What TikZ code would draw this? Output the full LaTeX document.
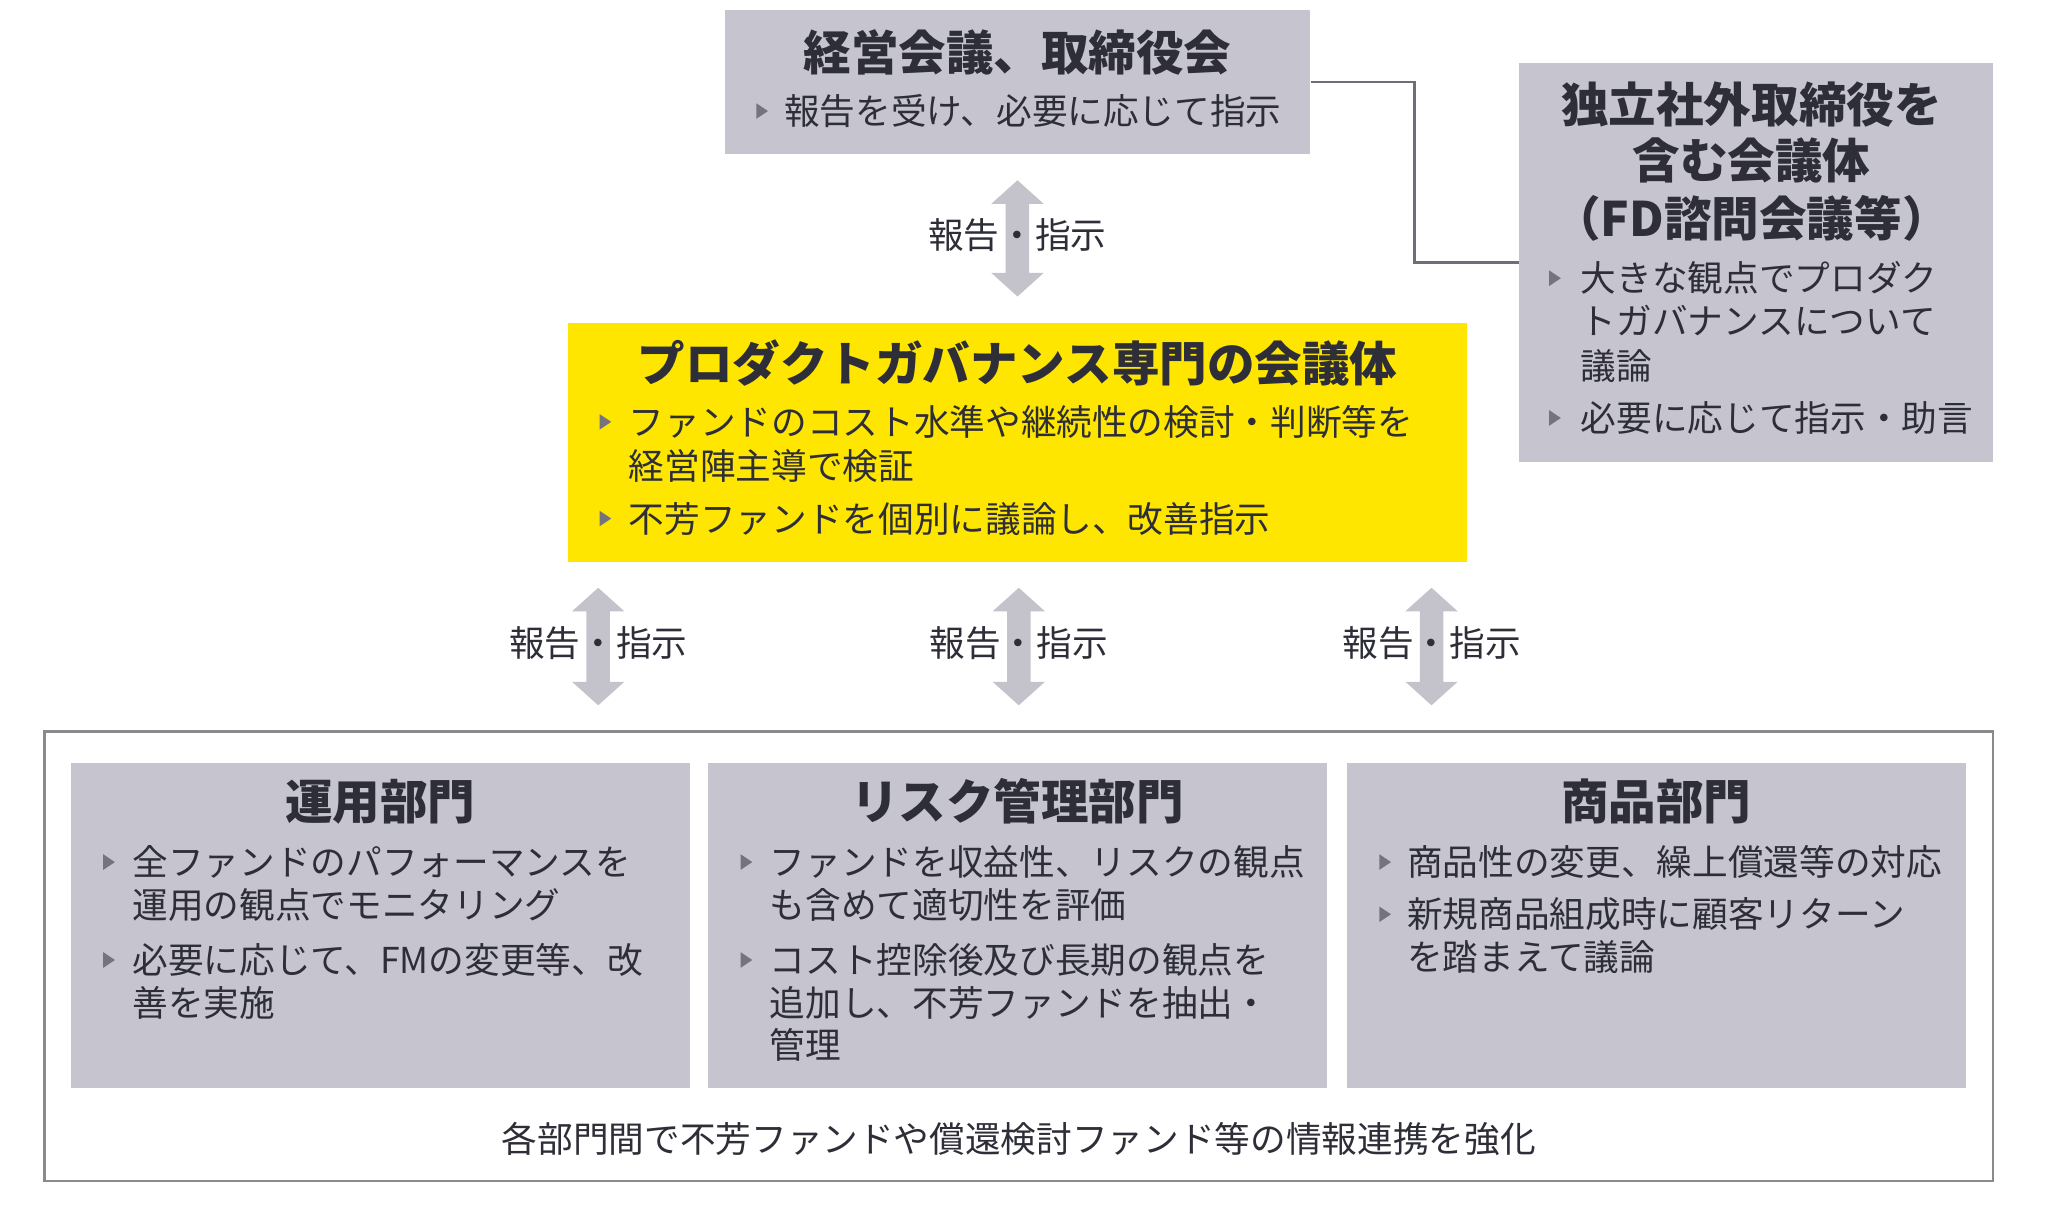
\documentclass[tikz,border=0pt]{standalone}
\usepackage{fontspec}
\setmainfont{Noto Sans CJK JP}
\usetikzlibrary{fit}
\definecolor{boxgray}{HTML}{C6C5CF}
\definecolor{eyyellow}{HTML}{FFE600}
\definecolor{txt}{HTML}{2E2E38}
\definecolor{bulc}{HTML}{74747E}
\definecolor{arrc}{HTML}{C4C3CC}
\definecolor{connc}{HTML}{6E6E78}
\definecolor{outerc}{HTML}{8A8A8E}
\tikzset{
  box/.style={fill=boxgray, draw=none, inner sep=0pt},
  ybox/.style={fill=eyyellow, draw=none, inner sep=0pt},
  body/.style={anchor=base west, inner sep=0pt, text=txt, font=\fontsize{13.65}{16}\selectfont},
  lbl/.style={anchor=base, inner sep=0pt, text=txt, font=\fontsize{13.65}{16}\selectfont},
  ttl/.style={anchor=base, inner sep=0pt, text=txt, font=\fontsize{18.2}{22}\selectfont\bfseries},
  conn/.style={draw=connc, line width=0.9pt},
}
% bullet triangle at (x, centre y)
\newcommand\bultri[2]{\fill[bulc] (#1-4,#2-6) -- (#1+5,#2) -- (#1-4,#2+6) -- cycle;}
% text line: name, x, centre y, text
\newcommand\tline[4]{\node[body] (#1) at (#2,#3+10.4) {#4};}
% title line: name, x, centre y, text
\newcommand\tttl[4]{\node[ttl] (#1) at (#2,#3+13.8) {#4};}
% double block arrow: x, top y, bottom y
\newcommand\dblarrow[3]{%
  \coordinate (ta) at (#1,#2);
  \coordinate (tb) at (#1,#3);
  \fill[arrc] (ta) -- ++(20,18) -- ++(-11,0) -- (#1+9,#3-18) -- ++(11,0) -- (tb)
     -- (#1-20,#3-18) -- ++(11,0) -- (#1-9,#2+18) -- ++(-11,0) -- cycle;}
\begin{document}
\begin{tikzpicture}[x=0.5pt,y=-0.5pt]
\useasboundingbox (0,0) rectangle (1568,932.5);

% ---------- top box
\node[box, fit={(555,8) (1003,118)}] (top) {};
\tttl{topt}{779}{40}{経営会議、取締役会}
\bultri{583}{85}
\tline{topb}{600}{85}{報告を受け、必要に応じて指示}

% ---------- right box
\node[box, fit={(1163,48) (1526,354)}] (fd) {};
\tttl{fdt1}{1341}{80}{独立社外取締役を}
\tttl{fdt2}{1341}{123}{含む会議体}
\tttl{fdt3}{1341}{167}{（FD諮問会議等）}
\bultri{1190}{213}
\tline{fdb1}{1210}{213}{大きな観点でプロダク}
\tline{fdb2}{1210}{246}{トガバナンスについて}
\tline{fdb3}{1210}{280}{議論}
\bultri{1190}{320}
\tline{fdb4}{1210}{320}{必要に応じて指示・助言}

\draw[conn] (top.east) -- (1083,63) |- (fd.west);

% ---------- top arrow
\dblarrow{779}{138}{227}
\node[lbl] (lab0) at (779,180+10.4) {報告・指示};

% ---------- yellow box
\node[ybox, fit={(435,247) (1123,430)}] (pg) {};
\tttl{pgt}{779}{278}{プロダクトガバナンス専門の会議体}
\bultri{463}{323}
\tline{pgb1}{481}{323}{ファンドのコスト水準や継続性の検討・判断等を}
\tline{pgb2}{481}{357}{経営陣主導で検証}
\bultri{463}{397}
\tline{pgb3}{481}{397}{不芳ファンドを個別に議論し、改善指示}

% ---------- lower arrows
\dblarrow{458}{450}{540}
\node[lbl] (lab1) at (458,492+10.4) {報告・指示};
\dblarrow{780}{450}{540}
\node[lbl] (lab2) at (780,492+10.4) {報告・指示};
\dblarrow{1096}{450}{540}
\node[lbl] (lab3) at (1096,492+10.4) {報告・指示};

% ---------- outer frame
\node[draw=outerc, line width=0.9pt, fill=white, inner sep=0pt, fit={(34,560) (1526,904)}] (outer) {};

% ---------- department boxes
\node[box, fit={(54,584) (528,833)}] (d1) {};
\node[box, fit={(542,584) (1016,833)}] (d2) {};
\node[box, fit={(1031,584) (1505,833)}] (d3) {};

\tttl{d1t}{291}{614}{運用部門}
\bultri{83}{660}
\tline{d1b1}{101}{660}{全ファンドのパフォーマンスを}
\tline{d1b2}{101}{693}{運用の観点でモニタリング}
\bultri{83}{735}
\tline{d1b3}{101}{735}{必要に応じて、FMの変更等、改}
\tline{d1b4}{101}{768}{善を実施}

\tttl{d2t}{779}{614}{リスク管理部門}
\bultri{571}{660}
\tline{d2b1}{589}{660}{ファンドを収益性、リスクの観点}
\tline{d2b2}{589}{693}{も含めて適切性を評価}
\bultri{571}{735}
\tline{d2b3}{589}{735}{コスト控除後及び長期の観点を}
\tline{d2b4}{589}{768}{追加し、不芳ファンドを抽出・}
\tline{d2b5}{589}{800}{管理}

\tttl{d3t}{1268}{614}{商品部門}
\bultri{1060}{660}
\tline{d3b1}{1077}{660}{商品性の変更、繰上償還等の対応}
\bultri{1060}{700}
\tline{d3b2}{1077}{700}{新規商品組成時に顧客リターン}
\tline{d3b3}{1077}{733}{を踏まえて議論}

\node[lbl] (bottom) at (780,872+10.4) {各部門間で不芳ファンドや償還検討ファンド等の情報連携を強化};
\end{tikzpicture}
\end{document}
